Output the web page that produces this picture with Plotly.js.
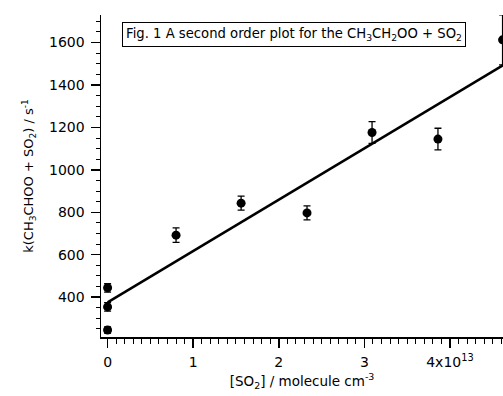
<!DOCTYPE html>
<html>
<head>
<meta charset="utf-8">
<script src="https://cdn.plot.ly/plotly-3.0.1.min.js"></script>
<style>html,body{margin:0;padding:0;background:#fff;}#chart{width:503px;height:396px;}</style>
</head>
<body>
<div id="chart"></div>
<script>
// [SO2] in units of 1e13 molecule cm^-3
const so2Conc = [0, 0, 0, 0.80, 1.56, 2.33, 3.09, 3.86, 4.615];
// k(CH3CHOO + SO2) / s^-1
const kRate = [245, 354, 444, 692, 843, 797, 1176, 1145, 1613];
const kErr = [15, 20, 20, 34, 33, 33, 51, 51, 118];
const xTickVals = [0, 1, 2, 3, 4];
const xTickText = ['0', '1', '2', '3', '4x10<sup>13</sup>'];
const yTickVals = [400, 600, 800, 1000, 1200, 1400, 1600];

// least-squares fit through the data
const n = so2Conc.length;
const mx = so2Conc.reduce((a, b) => a + b, 0) / n;
const my = kRate.reduce((a, b) => a + b, 0) / n;
let sxy = 0, sxx = 0;
for (let i = 0; i < n; i++) { sxy += (so2Conc[i] - mx) * (kRate[i] - my); sxx += (so2Conc[i] - mx) ** 2; }
const slope = sxy / sxx, intercept = my - slope * mx;
const fitX = [0, 4.8];
const fitY = fitX.map(x => intercept + slope * x);

const font = 'DejaVu Sans, Verdana, sans-serif';
const data = [
  {x: fitX, y: fitY, mode: 'lines', line: {color: '#000', width: 2.5}, hoverinfo: 'skip'},
  {x: so2Conc, y: kRate, mode: 'markers', marker: {color: '#000', size: 9},
   error_y: {type: 'data', array: kErr, visible: true, color: '#000', thickness: 1.3, width: 3.5}}
];
const layout = {
  width: 503, height: 396, showlegend: false,
  paper_bgcolor: '#fff', plot_bgcolor: '#fff',
  margin: {l: 101, r: 0, t: 15, b: 59},
  font: {family: font, color: '#000', size: 14},
  xaxis: {range: [-0.077, 4.62], showgrid: false, zeroline: false, showline: true, linewidth: 1.5, linecolor: '#000',
    ticks: 'outside', ticklen: 9, tickwidth: 1.5, tickcolor: '#000', tickvals: xTickVals, ticktext: xTickText,
    ticklabelstandoff: 3, tickfont: {size: 14, family: font},
    minor: {dtick: 0.1, tick0: 0, ticks: 'outside', ticklen: 5, tickwidth: 1, tickcolor: '#000'},
    title: {text: '[SO<sub>2</sub>] / molecule cm<sup>-3</sup>', font: {size: 13.5, family: font}, standoff: 7}},
  yaxis: {range: [212, 1730], showgrid: false, zeroline: false, showline: true, linewidth: 1.5, linecolor: '#000',
    ticks: 'outside', ticklen: 9, tickwidth: 1.5, tickcolor: '#000', tickvals: yTickVals,
    ticklabelstandoff: 3, tickfont: {size: 14, family: font},
    minor: {dtick: 50, tick0: 0, ticks: 'outside', ticklen: 4, tickwidth: 1, tickcolor: '#000'},
    title: {text: 'k(CH<sub>3</sub>CHOO + SO<sub>2</sub>) / s<sup>-1</sup>', font: {size: 13, family: font}, standoff: 12}},
  annotations: [{
    xref: 'paper', yref: 'paper', x: 0.481, y: 0.938, xanchor: 'center', yanchor: 'middle', showarrow: false,
    text: 'Fig. 1 A second order plot for the CH<sub>3</sub>CH<sub>2</sub>OO + SO<sub>2</sub>',
    font: {size: 13.2, family: font, color: '#000'}, bordercolor: '#000', borderwidth: 1, borderpad: 3, bgcolor: '#fff'
  }]
};
Plotly.newPlot('chart', data, layout, {displayModeBar: false, staticPlot: true});
</script>
</body>
</html>
